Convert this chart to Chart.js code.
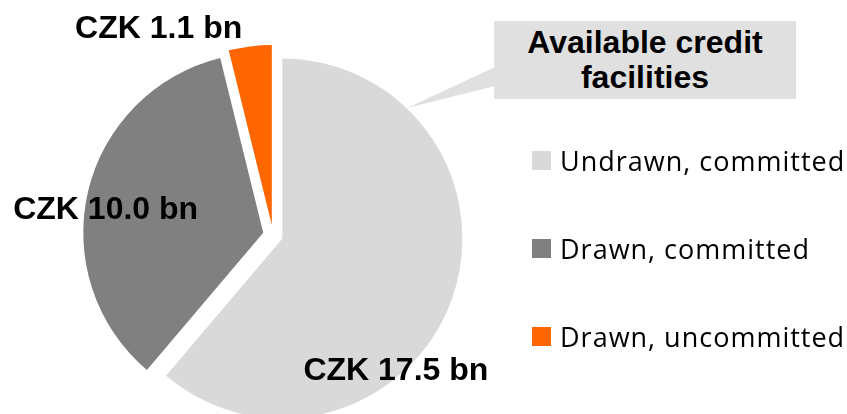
<!DOCTYPE html>
<html>
<head>
<meta charset="utf-8">
<script src="https://cdn.jsdelivr.net/npm/chart.js@4.4.0/dist/chart.umd.min.js"></script>
<style>
  html, body { margin: 0; padding: 0; background: #fff; overflow: hidden; }
  body { width: 847px; height: 414px; position: relative; font-family: "Liberation Sans", Arial, sans-serif; }
  #pieWrap { position: absolute; left: 0; top: 0; width: 847px; height: 460px; }
  #callout {
    position: absolute; left: 494px; top: 21px; width: 302px; height: 78px;
    background: #e0e0e0; color: #000; font-weight: bold; font-size: 32px;
    line-height: 35px; text-align: center; display: flex; align-items: center; justify-content: center;
  }
  #wedge { position: absolute; left: 0; top: 0; }
  #legend { position: absolute; left: 532px; top: 0; font-family: "Open Sans", sans-serif; font-size: 27px; letter-spacing: 1px; color: #000; }
  .item { position: absolute; left: 0; white-space: nowrap; display: flex; align-items: center; }
  .box { width: 19px; height: 19px; margin-right: 9px; }
</style>
</head>
<body>
<div id="pieWrap"><canvas id="pieChart"></canvas></div>
<svg id="wedge" width="847" height="414"><polygon points="407,108 495,67 495,86" fill="#e0e0e0"/></svg>
<div id="callout">Available credit<br>facilities</div>
<div id="legend"></div>
<script>
const categories = ["Undrawn, committed", "Drawn, committed", "Drawn, uncommitted"];
const values = [17.5, 10.0, 1.1];
const valueLabels = ["CZK 17.5 bn", "CZK 10.0 bn", "CZK 1.1 bn"];
const colors = ["#d9d9d9", "#808080", "#ff6600"];

const EXPLODE = 10; // px each slice is pulled out along its middle angle

// where each value label sits: angle (deg, clockwise from top) and distance as share of radius
const labelSpots = [
  { deg: 138, r: 1.02 },
  { deg: 278.5, r: 0.94 },
  { deg: 331, r: 1.31 }
];

// chart.js offset also grows big slices, so pull the arcs out by hand instead
const explodePlugin = {
  id: "explode",
  beforeDatasetDraw(chart, args) {
    const ctx = chart.ctx;
    args.meta.data.forEach(arc => {
      const mid = (arc.startAngle + arc.endAngle) / 2;
      ctx.save();
      ctx.translate(Math.cos(mid) * EXPLODE, Math.sin(mid) * EXPLODE);
      arc.draw(ctx, chart.chartArea);
      ctx.restore();
    });
    return false;
  }
};

const valueLabelPlugin = {
  id: "valueLabels",
  afterDatasetsDraw(chart) {
    const ctx = chart.ctx;
    const meta = chart.getDatasetMeta(0);
    ctx.save();
    ctx.font = "bold 32px 'Liberation Sans', Arial, sans-serif";
    ctx.fillStyle = "#000";
    ctx.textAlign = "center";
    ctx.textBaseline = "middle";
    meta.data.forEach((arc, i) => {
      const spot = labelSpots[i];
      const a = spot.deg * Math.PI / 180;
      const x = arc.x + Math.sin(a) * arc.outerRadius * spot.r;
      const y = arc.y - Math.cos(a) * arc.outerRadius * spot.r;
      ctx.fillText(valueLabels[i], x, y);
    });
    ctx.restore();
  }
};

function initChart() {
  const ctx = document.getElementById("pieChart").getContext("2d");
  new Chart(ctx, {
    type: "pie",
    data: {
      labels: categories,
      datasets: [{
        data: values,
        backgroundColor: colors,
        borderWidth: 0
      }]
    },
    options: {
      responsive: true,
      maintainAspectRatio: false,
      animation: false,
      layout: { padding: { left: 93, right: 394, top: 55, bottom: 45 } },
      plugins: {
        legend: { display: false },
        tooltip: { enabled: false }
      }
    },
    plugins: [explodePlugin, valueLabelPlugin]
  });
}

function buildLegend() {
  const legend = document.getElementById("legend");
  const centers = [160, 248, 336];
  categories.forEach((name, i) => {
    const item = document.createElement("div");
    item.className = "item";
    item.style.top = (centers[i] - 20) + "px";
    item.style.height = "40px";
    const box = document.createElement("span");
    box.className = "box";
    box.style.background = colors[i];
    const text = document.createElement("span");
    text.textContent = name;
    item.appendChild(box);
    item.appendChild(text);
    legend.appendChild(item);
  });
}

window.onload = function () {
  initChart();
  buildLegend();
};
</script>
</body>
</html>
